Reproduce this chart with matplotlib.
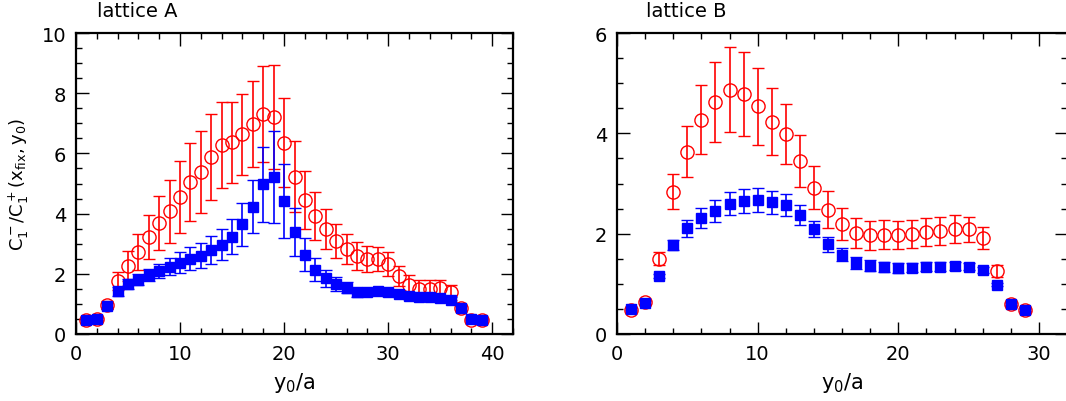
import numpy as np
import matplotlib
matplotlib.use('Agg')
import matplotlib.pyplot as plt
from matplotlib.ticker import MultipleLocator

# lattice A
xA = list(range(1, 40))
redA = [0.48, 0.50, 0.96, 1.75, 2.27, 2.71, 3.23, 3.68, 4.08, 4.56, 5.04, 5.38, 5.89, 6.27, 6.37,
        6.64, 6.97, 7.30, 7.21, 6.35, 5.23, 4.45, 3.92, 3.49, 3.09, 2.82, 2.58, 2.49, 2.49, 2.33,
        1.92, 1.64, 1.50, 1.50, 1.52, 1.38, 0.85, 0.47, 0.46]
redA_err = [0.04, 0.05, 0.12, 0.30, 0.50, 0.60, 0.73, 0.90, 1.05, 1.20, 1.30, 1.35, 1.43, 1.43, 1.35,
            1.35, 1.43, 1.60, 1.72, 1.48, 1.17, 0.95, 0.80, 0.66, 0.57, 0.50, 0.46, 0.43, 0.41, 0.39,
            0.34, 0.31, 0.28, 0.29, 0.28, 0.24, 0.10, 0.04, 0.04]
blueA = [0.48, 0.50, 0.94, 1.42, 1.66, 1.80, 1.96, 2.10, 2.24, 2.36, 2.50, 2.60, 2.80, 2.97, 3.23,
         3.65, 4.23, 4.97, 5.22, 4.42, 3.40, 2.64, 2.14, 1.85, 1.66, 1.54, 1.38, 1.38, 1.42, 1.38,
         1.32, 1.26, 1.22, 1.22, 1.18, 1.14, 0.85, 0.49, 0.48]
blueA_err = [0.03, 0.04, 0.10, 0.15, 0.17, 0.18, 0.21, 0.24, 0.29, 0.35, 0.38, 0.42, 0.47, 0.52, 0.58,
             0.71, 0.89, 1.25, 1.52, 1.22, 0.80, 0.55, 0.39, 0.28, 0.22, 0.18, 0.14, 0.13, 0.12, 0.11,
             0.10, 0.09, 0.09, 0.09, 0.08, 0.08, 0.07, 0.03, 0.03]

# lattice B
xB = list(range(1, 30))
redB = [0.48, 0.63, 1.50, 2.84, 3.63, 4.27, 4.63, 4.87, 4.79, 4.54, 4.23, 3.98, 3.45, 2.92, 2.48,
        2.19, 2.01, 1.97, 1.98, 1.97, 1.99, 2.04, 2.05, 2.09, 2.09, 1.92, 1.26, 0.60, 0.48]
redB_err = [0.03, 0.04, 0.13, 0.34, 0.51, 0.69, 0.80, 0.85, 0.84, 0.77, 0.67, 0.60, 0.51, 0.42, 0.37,
            0.32, 0.30, 0.29, 0.29, 0.28, 0.28, 0.28, 0.28, 0.28, 0.25, 0.22, 0.12, 0.04, 0.03]
blueB = [0.49, 0.62, 1.16, 1.78, 2.11, 2.31, 2.45, 2.60, 2.65, 2.67, 2.63, 2.57, 2.37, 2.09, 1.79,
         1.58, 1.42, 1.36, 1.34, 1.32, 1.32, 1.34, 1.34, 1.35, 1.34, 1.28, 0.98, 0.60, 0.48]
blueB_err = [0.02, 0.03, 0.04, 0.10, 0.17, 0.20, 0.22, 0.23, 0.24, 0.24, 0.23, 0.22, 0.20, 0.16, 0.15,
             0.13, 0.12, 0.11, 0.10, 0.10, 0.09, 0.09, 0.09, 0.08, 0.07, 0.06, 0.03, 0.02, 0.02]

plt.rcParams['font.family'] = ['DejaVu Sans']
plt.rcParams['mathtext.fontset'] = 'dejavusans'

fig = plt.figure(figsize=(10.66, 4.02), dpi=100)
axA = fig.add_axes([76 / 1066, 67 / 402, 437 / 1066, 301 / 402])
axB = fig.add_axes([617 / 1066, 67 / 402, 450 / 1066, 301 / 402])


def draw(ax, x, r, re, b, be, xmax, ymax, title, tx):
    ax.errorbar(x, r, yerr=re, fmt='o', mfc='none', mec='red', ecolor='red', ms=9.5, mew=1.0,
                elinewidth=1.2, capsize=4, capthick=1.2)
    ax.errorbar(x, b, yerr=be, fmt='s', mfc='blue', mec='blue', ecolor='blue', ms=7, mew=1.0,
                elinewidth=1.2, capsize=4, capthick=1.2)
    ax.set_xlim(0, xmax)
    ax.set_ylim(0, ymax)
    ax.xaxis.set_major_locator(MultipleLocator(10))
    ax.xaxis.set_minor_locator(MultipleLocator(2))
    ax.yaxis.set_major_locator(MultipleLocator(2))
    ax.yaxis.set_minor_locator(MultipleLocator(0.5))
    ax.tick_params(which='both', direction='in', top=True, right=True, labelsize=14, width=1.0)
    ax.tick_params(which='major', length=9, pad=7)
    ax.tick_params(which='minor', length=4.5)
    for s in ax.spines.values():
        s.set_linewidth(1.6)
    ax.set_xlabel(r'$\mathrm{y_0/a}$', fontsize=15, labelpad=5)
    ax.text(tx, 1.056, title, transform=ax.transAxes, fontsize=14, ha='left', va='baseline')


draw(axA, xA, redA, redA_err, blueA, blueA_err, 42, 10, 'lattice A', 0.048)
draw(axB, xB, redB, redB_err, blueB, blueB_err, 32, 6, 'lattice B', 0.064)
axA.set_ylabel(r'$\mathrm{C_1^-/C_1^+(x_{fix},y_0)}$', fontsize=13, labelpad=8)

fig.savefig('out.png', dpi=100)
